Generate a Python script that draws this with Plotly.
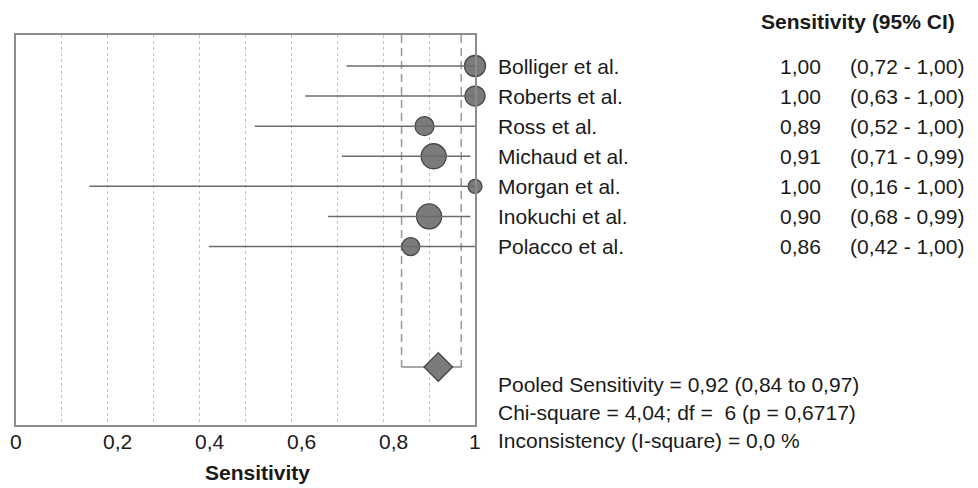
import plotly.graph_objects as go

studies = ["Bolliger et al.", "Roberts et al.", "Ross et al.", "Michaud et al.",
           "Morgan et al.", "Inokuchi et al.", "Polacco et al."]
sens = [1.00, 1.00, 0.89, 0.91, 1.00, 0.90, 0.86]
ci_lo = [0.72, 0.63, 0.52, 0.71, 0.16, 0.68, 0.42]
ci_hi = [1.00, 1.00, 1.00, 0.99, 1.00, 0.99, 1.00]
study_weight_px = [21, 20, 19, 25, 14, 25, 18]

pooled = 0.92
pooled_lo = 0.84
pooled_hi = 0.97
chi_square = 4.04
df = 6
p_value = 0.6717
i_square = 0.0

x_ticks = [0, 0.2, 0.4, 0.6, 0.8, 1.0]
x_ticklabels = ["0", "0,2", "0,4", "0,6", "0,8", "1"]

def fmt(v, d=2):
    return f"{v:.{d}f}".replace(".", ",")

FONT = "Liberation Sans, Arial, sans-serif"
FS = 21
TXT = "#1a1a1a"
rows = list(range(1, len(studies) + 1))
pooled_row = 11
y_top, y_bottom = -0.03, 12.93

fig = go.Figure()

# pooled dashed verticals
fig.add_trace(go.Scatter(x=[pooled_lo, pooled_lo, None, pooled_hi, pooled_hi],
                         y=[y_top, pooled_row, None, y_top, pooled_row],
                         mode="lines", line=dict(color="#999999", width=1.5, dash="8px,5px"),
                         hoverinfo="skip", showlegend=False))
fig.add_trace(go.Scatter(x=[pooled_lo, pooled_hi], y=[pooled_row, pooled_row],
                         mode="lines", line=dict(color="#8a8a8a", width=1.5),
                         hoverinfo="skip", showlegend=False))

# study points
fig.add_trace(go.Scatter(x=sens, y=rows, mode="markers",
                         marker=dict(symbol="circle", size=study_weight_px, color="#7b7b7b",
                                     opacity=1, line=dict(color="#454545", width=1.3)),
                         cliponaxis=False, showlegend=False))

# CI lines (drawn over the points, as in the reference)
xs, ys = [], []
for r, a, b in zip(rows, ci_lo, ci_hi):
    xs += [a, b, None]
    ys += [r, r, None]
fig.add_trace(go.Scatter(x=xs, y=ys, mode="lines",
                         line=dict(color="#6b6b6b", width=1.5),
                         hoverinfo="skip", showlegend=False))

# pooled diamond
fig.add_trace(go.Scatter(x=[pooled], y=[pooled_row], mode="markers",
                         marker=dict(symbol="diamond", size=22, color="#7b7b7b", opacity=1,
                                     line=dict(color="#454545", width=1.3)),
                         showlegend=False))

ann = []
for r, name, s, a, b in zip(rows, studies, sens, ci_lo, ci_hi):
    ann.append(dict(x=0.507, xref="paper", y=r, yref="y", text=name, showarrow=False,
                    xanchor="left", yanchor="middle", font=dict(family=FONT, size=FS, color=TXT)))
    ann.append(dict(x=0.8415, xref="paper", y=r, yref="y", text=fmt(s), showarrow=False,
                    xanchor="right", yanchor="middle", font=dict(family=FONT, size=FS, color=TXT)))
    ann.append(dict(x=0.867, xref="paper", y=r, yref="y", text=f"({fmt(a)} - {fmt(b)})",
                    showarrow=False, xanchor="left", yanchor="middle",
                    font=dict(family=FONT, size=FS, color=TXT)))

# x tick labels (decimal labels sit slightly right of their gridline in the reference)
for tv, tt in zip(x_ticks, x_ticklabels):
    ann.append(dict(x=tv, xref="x", y=1 - 441 / 488, yref="paper", text=tt, showarrow=False,
                    xanchor="center", yanchor="middle", xshift=(10 if "," in tt else 0),
                    font=dict(family=FONT, size=21, color=TXT)))

ann.append(dict(x=857.5 / 978, xref="paper", y=1 - 22 / 488, yref="paper",
                text="<b>Sensitivity (95% CI)</b>", showarrow=False, xanchor="center",
                yanchor="middle", font=dict(family=FONT, size=21, color=TXT)))

summary = [
    f"Pooled Sensitivity = {fmt(pooled)} ({fmt(pooled_lo)} to {fmt(pooled_hi)})",
    f"Chi-square = {fmt(chi_square)}; df =  {df} (p = {fmt(p_value, 4)})",
    f"Inconsistency (I-square) = {fmt(i_square, 1)} %",
]
for txt, ypx in zip(summary, [384, 412, 440]):
    ann.append(dict(x=0.507, xref="paper", y=1 - ypx / 488, yref="paper", text=txt,
                    showarrow=False, xanchor="left", yanchor="middle",
                    font=dict(family=FONT, size=FS, color=TXT)))

ann.append(dict(x=257 / 978, xref="paper", y=1 - 472 / 488, yref="paper",
                text="<b>Sensitivity</b>", showarrow=False, xanchor="center", yanchor="middle",
                font=dict(family=FONT, size=21, color=TXT)))

fig.update_layout(
    width=978, height=488,
    margin=dict(l=0, r=0, t=0, b=0, autoexpand=False),
    paper_bgcolor="white", plot_bgcolor="white",
    annotations=ann,
    xaxis=dict(domain=[16 / 978, 475 / 978], range=[0, 1], tickvals=x_ticks,
               showticklabels=False, ticks="", automargin=False,
               showgrid=True, gridcolor="#c4c4c4",
               griddash="dot", gridwidth=1.2, zeroline=False,
               minor=dict(dtick=0.1, showgrid=True, gridcolor="#c4c4c4", griddash="dot", gridwidth=1.2),
               showline=True, mirror=True, linecolor="#8c8c8c", linewidth=1.5),
    yaxis=dict(domain=[1 - 425 / 488, 1 - 35 / 488], range=[y_bottom, y_top],
               showticklabels=False, ticks="", showgrid=False, zeroline=False, automargin=False,
               showline=True, mirror=True, linecolor="#8c8c8c", linewidth=1.5),
)

fig.write_html("out.html", config={"displayModeBar": False},
               post_script="document.body.style.margin='0';document.body.style.overflow='hidden';")
